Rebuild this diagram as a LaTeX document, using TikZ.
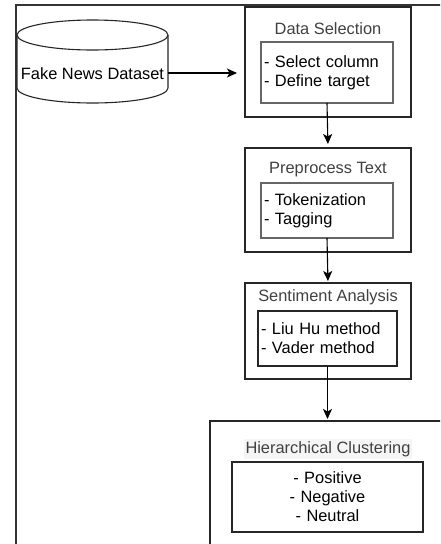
\documentclass[tikz,border=0pt]{standalone}
\usepackage{fontspec}
\setmainfont{Liberation Sans}
\usetikzlibrary{arrows.meta,positioning}

\begin{document}
\begin{tikzpicture}[x=1pt,y=-1pt,
    every node/.style={outer sep=0pt,font=\fontsize{16.4}{19}\selectfont},
    stage/.style={draw=black!85,line width=1.1pt,minimum width=166pt},
    inbox/.style={draw=black!85,line width=1.1pt,inner xsep=3pt,align=left},
    caption/.style={text=black!75,inner sep=0pt},
    flow/.style={line width=1.1pt,shorten >=2pt,-{Stealth[length=10pt,width=9pt,inset=2.5pt]}},
    dbpic/.pic={\draw[black!85,line width=1.1pt] (-75.5,-39) -- (-75.5,14)
      arc[start angle=180,end angle=0,x radius=75.5,y radius=15] -- (75.5,-39);
    \draw[black!85,line width=1.1pt] (0,-39) ellipse [x radius=75.5,y radius=15];}]

  \useasboundingbox (0,0) rectangle (440,544);
  \clip (0,0) rectangle (440,544);
  \draw[line width=1.4pt,black!80] (16,700) |- (600,5);

  \pic at (92.5,74) {dbpic};
  \node[minimum width=151pt,inner sep=0pt] (dataset) at (92.5,74) {Fake News Dataset};

  % stages
  \node[stage,minimum height=110pt] (sel) at (328,62) {};
  \node[caption] (selt) at (328,29) {Data Selection};
  \node[inbox,text width=126pt,minimum height=61pt,draw=black!60,line width=1.6pt] (seli) at (327,72.5) {- Select column\\- Define target};

  \node[stage,minimum height=104pt] (prep) at (328,200) {};
  \node[caption] (prept) at (328,170) {Preprocess Text};
  \node[inbox,text width=126pt,minimum height=55pt,draw=black!60,line width=1.6pt] (prepi) at (327,210.5) {- Tokenization\\- Tagging};

  \node[stage,minimum height=96pt] (sent) at (328,331) {};
  \node[caption] (sentt) at (328,297) {Sentiment Analysis};
  \node[inbox,text width=133pt,minimum height=55pt] (senti) at (327.5,338.5) {- Liu Hu method\\- Vader method};

  \node[stage,minimum width=235pt,minimum height=138pt] (hier) at (327.5,490) {};
  \node[caption,fill=black!4,inner sep=2pt] (hiert) at (328,449) {Hierarchical Clustering};
  \node[inbox,align=center,text width=185pt,minimum height=70pt] (hieri) at (327.5,497) {- Positive\\- Negative\\- Neutral};

  % connectors
  \draw[flow,shorten >=8pt] ([yshift=1pt]dataset.east) -- ([yshift=1pt]dataset.east -| sel.west);
  \draw[flow,shorten >=4pt] (seli.south) -- (prep.north);
  \draw[flow] (prepi.south) -- (sent.north);
  \draw[flow] (senti.south) -- (senti.south |- hier.north);
\end{tikzpicture}
\end{document}
